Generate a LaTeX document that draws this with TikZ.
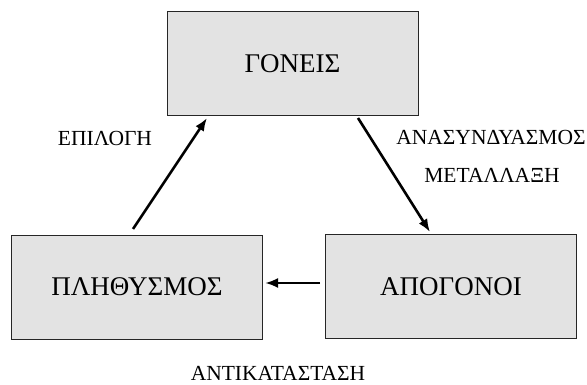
\documentclass[tikz,border=0pt]{standalone}
\usepackage{fontspec}
\setmainfont{Liberation Serif}
\usetikzlibrary{arrows.meta}
\definecolor{boxfill}{HTML}{E3E3E3}
\tikzset{
  box/.style={draw=black!85, line width=0.9pt, fill=boxfill, minimum width=251pt, minimum height=104pt, inner sep=0pt, font=\fontsize{27}{30}\selectfont},
  lab/.style={inner sep=0pt, font=\fontsize{21.5}{25}\selectfont},
  arr/.style={line width=2.6pt, -{Latex[length=13pt,width=10pt]}}
}
\begin{document}
\begin{tikzpicture}[x=1pt,y=-1pt]
\useasboundingbox (0,0) rectangle (587,385);
\node[box] (top) at (292.5,63.5) {ΓΟΝΕΙΣ};
\node[box] (left) at (137,287) {ΠΛΗΘΥΣΜΟΣ};
\node[box] (right) at (451,286.5) {ΑΠΟΓΟΝΟΙ};
\node[lab] (sel) at (105,138.5) {ΕΠΙΛΟΓΗ};
\node[lab] (rec) at (491,137) {ΑΝΑΣΥΝΔΥΑΣΜΟΣ};
\node[lab] (mut) at (492,175) {ΜΕΤΑΛΛΑΞΗ};
\node[lab] (rep) at (278,373) {ΑΝΤΙΚΑΤΑΣΤΑΣΗ};
\coordinate (a1) at (133,229);
\coordinate (a2) at (207,118);
\coordinate (b1) at (358,118);
\coordinate (b2) at (430,232);
\coordinate (c1) at (320,283);
\coordinate (c2) at (265,283);
\draw[arr] (a1) -- (a2);
\draw[arr] (b1) -- (b2);
\draw[arr] (c1) -- (c2);
\end{tikzpicture}
\end{document}
